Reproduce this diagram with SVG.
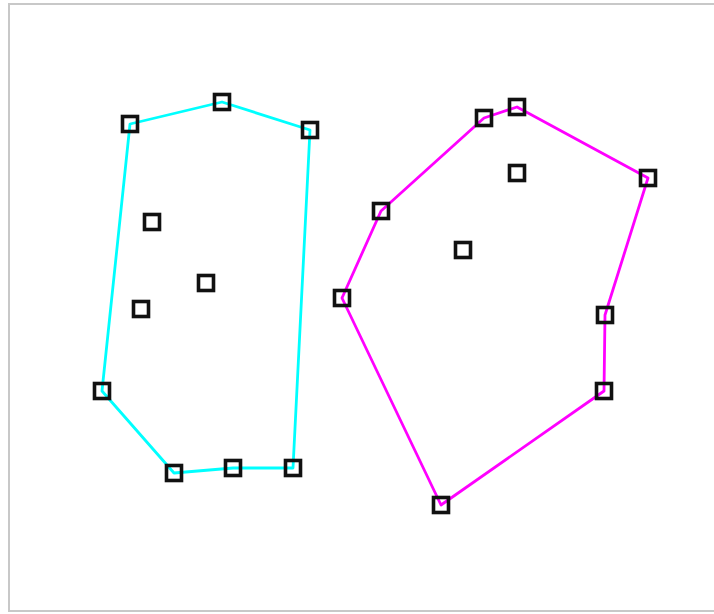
<svg xmlns="http://www.w3.org/2000/svg" width="714" height="614" viewBox="0 0 714 614">
<style>
.frame{fill:#fff;stroke:#c8c8c8;stroke-width:2}
.hull{fill:none;stroke-width:2.8;stroke-linejoin:round}
.c{stroke:#00ffff}
.m{stroke:#ff00ff}
.pt{fill:none;stroke:#111;stroke-width:3.6}
</style>
<defs>
<rect id="sq" x="-7.5" y="-7.5" width="15" height="15" class="pt"/>
</defs>
<rect class="frame" x="9" y="4" width="710" height="607"/>
<g id="connectors">
<polygon class="hull c" points="130,124 222,102 310,130 293,468 233,468 174,473 102,391"/>
<polygon class="hull m" points="342,298 381,211 484,118 517,107 648,178 605,315 604,391 441,505"/>
</g>
<g id="cyan-points">
<use href="#sq" x="130" y="124"/>
<use href="#sq" x="222" y="102"/>
<use href="#sq" x="310" y="130"/>
<use href="#sq" x="293" y="468"/>
<use href="#sq" x="233" y="468"/>
<use href="#sq" x="174" y="473"/>
<use href="#sq" x="102" y="391"/>
<use href="#sq" x="152" y="222"/>
<use href="#sq" x="206" y="283"/>
<use href="#sq" x="141" y="309"/>
</g>
<g id="magenta-points">
<use href="#sq" x="342" y="298"/>
<use href="#sq" x="381" y="211"/>
<use href="#sq" x="484" y="118"/>
<use href="#sq" x="517" y="107"/>
<use href="#sq" x="648" y="178"/>
<use href="#sq" x="605" y="315"/>
<use href="#sq" x="604" y="391"/>
<use href="#sq" x="441" y="505"/>
<use href="#sq" x="517" y="173"/>
<use href="#sq" x="463" y="250"/>
</g>
</svg>
